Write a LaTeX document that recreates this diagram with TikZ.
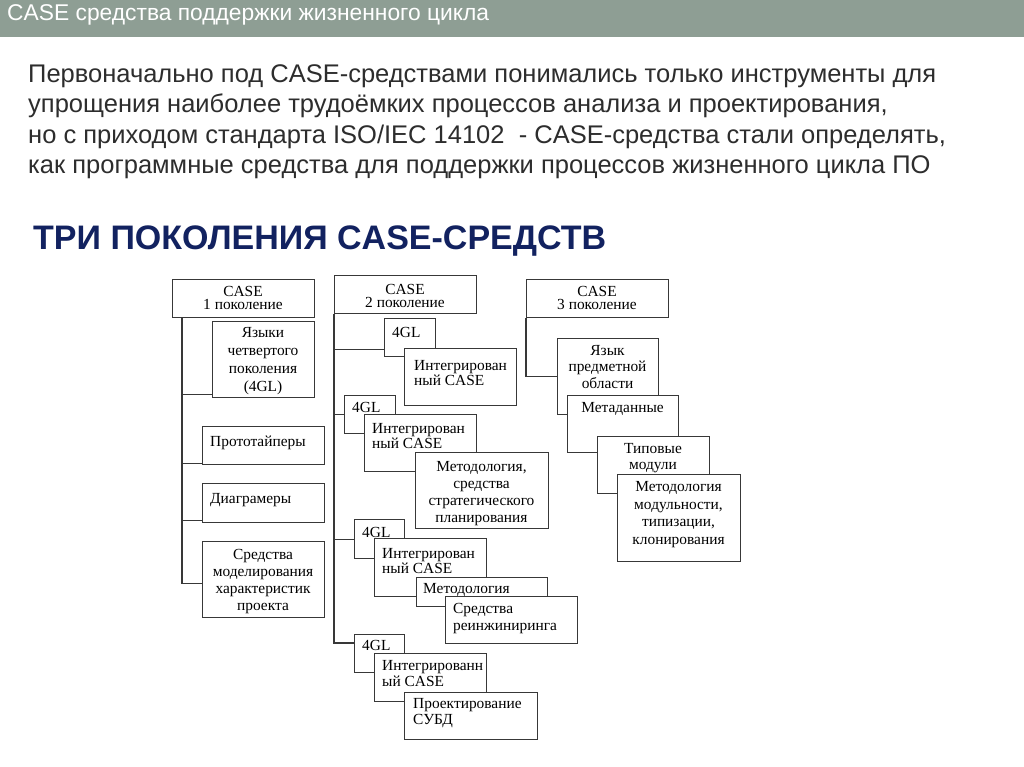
\documentclass[tikz,border=0pt]{standalone}
\usepackage{fontspec}
\setmainfont{Liberation Serif}
\newfontfamily\sansfnt{Liberation Sans}
\definecolor{barcol}{RGB}{142,158,148}
\definecolor{navy}{RGB}{18,34,96}
\definecolor{txtgray}{RGB}{45,45,45}
\tikzset{
  blk/.style={draw=black!78, line width=1.1pt, fill=white, anchor=north west, inner sep=0pt},
  lbl/.style={font=\fontsize{15.4}{#1}\selectfont, inner sep=0pt, anchor=base, align=center, text=black},
  lbl/.default=15,
  lbll/.style={lbl=#1, anchor=base west, align=left},
  lbll/.default=15,
  lnk/.style={draw=black!78, line width=1.1pt},
}
\begin{document}
\begin{tikzpicture}[x=1pt, y=-1pt]
\useasboundingbox (0,0) rectangle (1024,767);
\fill[white] (0,0) rectangle (1024,767);
\fill[barcol] (0,0) rectangle (1024,37);
\node[anchor=base west, inner sep=0pt, text=white, font=\sansfnt\fontsize{22.8}{24}\selectfont] (hdr) at (7,21) {CASE средства поддержки жизненного цикла};
% multi-line nodes sit on the baseline of their last line
\node[anchor=base west, inner sep=0pt, align=left, text=txtgray, font=\sansfnt\fontsize{25.5}{30.5}\selectfont] (intro) at (28,174)
  {Первоначально под CASE-средствами понимались только инструменты для\\
   упрощения наиболее трудоёмких процессов анализа и проектирования,\\
   но с приходом стандарта ISO/IEC 14102~~- CASE-средства стали определять,\\
   как программные средства для поддержки процессов жизненного цикла ПО};
\node[anchor=base west, inner sep=0pt, text=navy, font=\sansfnt\bfseries\fontsize{34}{36}\selectfont] (ttl) at (33,249) {ТРИ ПОКОЛЕНИЯ CASE-СРЕДСТВ};

% 1 поколение
\node[blk, minimum width=142pt, minimum height=38pt] (g1) at (172,279) {};
\node[lbl=13] (g1t) at (243,309) {CASE\\1 поколение};
\node[blk, minimum width=102pt, minimum height=76pt] (lang4) at (212,321) {};
\node[lbl=18] (lang4t) at (263,391) {Языки\\четвертого\\поколения\\(4GL)};
\node[blk, minimum width=122pt, minimum height=38pt] (proto) at (202,426) {};
\node[lbll] (protot) at (210,446) {Прототайперы};
\node[blk, minimum width=122pt, minimum height=39pt] (diag) at (202,483) {};
\node[lbll] (diagt) at (210,503) {Диаграмеры};
\node[blk, minimum width=122pt, minimum height=76pt] (model) at (202,541) {};
\node[lbl=17] (modelt) at (263,610) {Средства\\моделирования\\характеристик\\проекта};

% 2 поколение
\node[blk, minimum width=142pt, minimum height=38pt] (g2) at (334,275) {};
\node[lbl=13] (g2t) at (405,307) {CASE\\2 поколение};
\node[blk, minimum width=51pt, minimum height=38pt] (a1) at (384,318) {};
\node[lbll] (a1t) at (392,337) {4GL};
\node[blk, minimum width=112pt, minimum height=57pt] (b1) at (404,348) {};
\node[lbll] (b1t) at (414,385) {Интегрирован\\ный CASE};
\node[blk, minimum width=51pt, minimum height=38pt] (a2) at (344,395) {};
\node[lbll] (a2t) at (352,412) {4GL};
\node[blk, minimum width=112pt, minimum height=57pt] (b2) at (364,414) {};
\node[lbll] (b2t) at (372,448) {Интегрирован\\ный CASE};
\node[blk, minimum width=133pt, minimum height=76pt] (m2) at (415,452) {};
\node[lbl=17] (m2t) at (481.5,522) {Методология,\\средства\\стратегического\\планирования};
\node[blk, minimum width=50pt, minimum height=39pt] (a3) at (354,519) {};
\node[lbll] (a3t) at (362,537) {4GL};
\node[blk, minimum width=112pt, minimum height=58pt] (b3) at (374,538) {};
\node[lbll] (b3t) at (382,573) {Интегрирован\\ный CASE};
\node[blk, minimum width=131pt, minimum height=29pt] (m3) at (416,577) {};
\node[lbll] (m3t) at (423,593) {Методология};
\node[blk, minimum width=132pt, minimum height=47pt] (r3) at (445,596) {};
\node[lbll=17] (r3t) at (453,630) {Средства\\реинжиниринга};
\node[blk, minimum width=50pt, minimum height=38pt] (a4) at (354,634) {};
\node[lbll] (a4t) at (362,650) {4GL};
\node[blk, minimum width=112pt, minimum height=48pt] (b4) at (374,653) {};
\node[lbll=16] (b4t) at (382,686) {Интегрированн\\ый CASE};
\node[blk, minimum width=133pt, minimum height=47pt] (p4) at (404,692) {};
\node[lbll=16] (p4t) at (413,724) {Проектирование\\СУБД};

% 3 поколение
\node[blk, minimum width=142pt, minimum height=38pt] (g3) at (526,279) {};
\node[lbl=13] (g3t) at (597,309) {CASE\\3 поколение};
\node[blk, minimum width=101pt, minimum height=76pt] (l3) at (557,338) {};
\node[lbl=16.5] (l3t) at (607.5,388) {Язык\\предметной\\области};
\node[blk, minimum width=111pt, minimum height=57pt] (md) at (567,395) {};
\node[lbl] (mdt) at (622.5,412) {Метаданные};
\node[blk, minimum width=112pt, minimum height=57pt] (tm) at (597,436) {};
\node[lbl=16] (tmt) at (653,469) {Типовые\\модули};
\node[blk, minimum width=123pt, minimum height=87pt] (mm) at (617,474) {};
\node[lbl=17.5] (mmt) at (678.5,544) {Методология\\модульности,\\типизации,\\клонирования};

% связи
\coordinate (t1) at ([xshift=10pt]g1.south west);
\coordinate (lang4in) at ([yshift=4pt]lang4.south west);
\coordinate (protoin) at ([yshift=2pt]proto.south west);
\coordinate (diagin) at ([yshift=3pt]diag.south west);
\coordinate (a1in) at ([yshift=8pt]a1.south west);
\draw[lnk] (t1) |- ([yshift=-4pt]model.west);
\draw[lnk] (lang4in) -- (t1 |- lang4in);
\draw[lnk] (protoin) -- (t1 |- protoin);
\draw[lnk] (diagin) -- (t1 |- diagin);
\draw[lnk] (g2.south west) |- ([yshift=-9pt]a4.north west);
\draw[lnk] (a1in) -- (g2.south west |- a1in);
\draw[lnk] (a2.west) -- (g2.south west |- a2.west);
\draw[lnk] (a3.west) -- (g2.south west |- a3.west);
\draw[lnk] (g3.south west) |- (l3.west);
\end{tikzpicture}
\end{document}
